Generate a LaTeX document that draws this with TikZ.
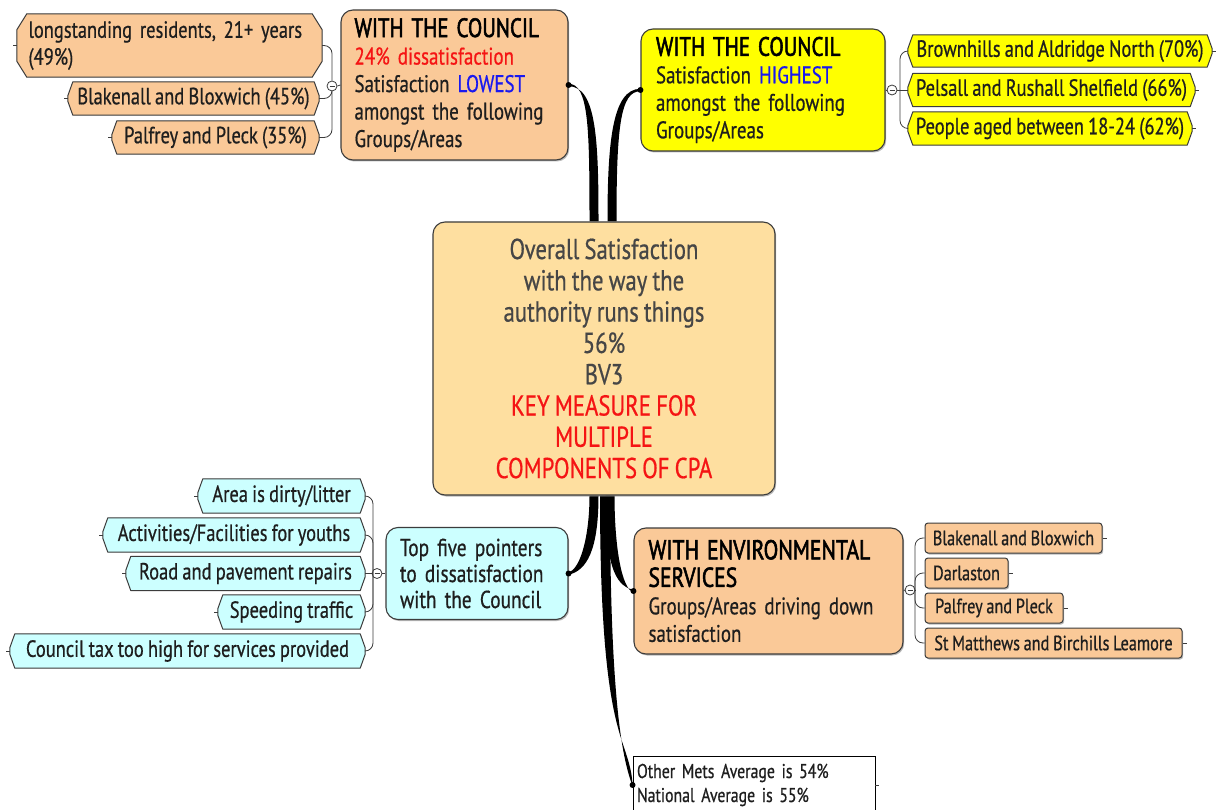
\documentclass[tikz,border=0pt]{standalone}
\usepackage{fontspec}
\setmainfont{PT Sans}[FakeStretch=0.79,FakeBold=0.6,WordSpace=0.85]
\newfontfamily\titlefont{PT Sans}[FakeStretch=0.79,FakeBold=2,WordSpace=0.85]
\usetikzlibrary{calc,backgrounds,shadows}
\definecolor{peach}{RGB}{250,201,152}
\definecolor{cbox}{RGB}{254,223,160}
\definecolor{ylw}{RGB}{255,255,0}
\definecolor{cyn}{RGB}{204,255,255}
\definecolor{kred}{RGB}{245,20,20}
\definecolor{kblue}{RGB}{25,25,240}
\definecolor{ctext}{RGB}{70,70,70}
\definecolor{btext}{RGB}{30,30,30}
\definecolor{edge}{RGB}{60,60,60}
% tapered connector: base, end, edge A controls (base, end), edge B controls (base, end), half width
\newcommand{\taper}[7]{%
  \fill ($#1+(-#7,0)$) .. controls +#3 and +#4 .. ($#2+(0,-1.2)$) -- ($#2+(0,1.2)$) .. controls +#6 and +#5 .. ($#1+(#7,0)$) -- cycle;}
% chamfered outline behind a named node: node, dx, dy, fill
\newcommand{\chamf}[4]{%
  \path[fill=black!45,opacity=0.6,shift={(1.2,1.5)}] ($(#1.north west)+(#2,0)$) -- ($(#1.north east)+(-#2,0)$) -- ($(#1.north east)+(0,#3)$) -- ($(#1.south east)+(0,-#3)$) -- ($(#1.south east)+(-#2,0)$) -- ($(#1.south west)+(#2,0)$) -- ($(#1.south west)+(0,-#3)$) -- ($(#1.north west)+(0,#3)$) -- cycle;
  \path[fill=#4,draw=edge,line width=1pt,line join=round] ($(#1.north west)+(#2,0)$) -- ($(#1.north east)+(-#2,0)$) -- ($(#1.north east)+(0,#3)$) -- ($(#1.south east)+(0,-#3)$) -- ($(#1.south east)+(-#2,0)$) -- ($(#1.south west)+(#2,0)$) -- ($(#1.south west)+(0,-#3)$) -- ($(#1.north west)+(0,#3)$) -- cycle;}
\begin{document}
\begin{tikzpicture}[x=1pt,y=-1pt,
  shd/.style={drop shadow={shadow xshift=1.2pt,shadow yshift=-1.5pt,fill=black!45,opacity=0.6}},
  bigbox/.style={rectangle,rounded corners=12pt,draw=edge,line width=1.1pt,text=btext,inner sep=0pt,align=left,
    font=\fontsize{24}{27.5}\selectfont},
  citem/.style={rectangle,inner sep=0pt,text=btext,font=\fontsize{23.4}{27}\selectfont},
  eitem/.style={rectangle,rounded corners=3pt,draw=edge,line width=1pt,fill=peach,text=btext,inner sep=0pt,
    font=\fontsize{20.6}{25}\selectfont},
  brk/.style={draw=edge,line width=0.8pt,rounded corners=8pt},
  stub/.style={draw=edge,line width=0.8pt},
  coll/.style={circle,draw=edge,line width=0.8pt,fill=white,minimum size=10pt,inner sep=0pt,
    path picture={\draw[line width=0.8pt] ([xshift=-2.5pt]path picture bounding box.center) -- ([xshift=2.5pt]path picture bounding box.center);}},
]
\clip (0,0) rectangle (1216,810);
\begin{scope}[on background layer]
\fill[white] (0,0) rectangle (1216,810);
\end{scope}

% central box
\node[bigbox,shd,fill=cbox,align=center,text=ctext,minimum width=342pt,minimum height=273pt,
  font=\fontsize{28.8}{31.3}\selectfont] (center) at (604,358.5)
  {Overall Satisfaction\\with the way the\\authority runs things\\56\%\\BV3\\
   \textcolor{kred}{KEY MEASURE FOR}\\\textcolor{kred}{MULTIPLE}\\\textcolor{kred}{COMPONENTS OF CPA}};

% top-left box
\node[bigbox,shd,fill=peach,minimum width=227pt,minimum height=150pt,text width=200pt] (low) at (454.5,85)
  {{\titlefont\fontsize{26.5}{27.5}\selectfont\color{black}WITH THE COUNCIL}\\\textcolor{kred}{24\% dissatisfaction}\\Satisfaction \textcolor{kblue}{LOWEST}\\amongst the following\\Groups/Areas};

% top-right box
\node[bigbox,shd,fill=ylw,minimum width=244pt,minimum height=122pt,text width=214pt] (high) at (763,90)
  {{\titlefont\fontsize{26.5}{27.5}\selectfont\color{black}WITH THE COUNCIL}\\Satisfaction \textcolor{kblue}{HIGHEST}\\amongst the following\\Groups/Areas};

% bottom-left box
\node[bigbox,shd,fill=cyn,minimum width=182pt,minimum height=92pt,text width=154pt,font=\fontsize{24.5}{26}\selectfont] (top5) at (477,573.5)
  {Top five pointers\\to dissatisfaction\\with the Council};

% bottom-right box
\node[bigbox,shd,fill=peach,minimum width=269pt,minimum height=126pt,text width=240pt] (env) at (768.5,591)
  {{\titlefont\fontsize{27.3}{29.5}\selectfont\color{black}WITH ENVIRONMENTAL}\\{\titlefont\fontsize{27.3}{29.5}\selectfont\color{black}SERVICES}\\Groups/Areas driving down\\satisfaction};

% bottom white box
\node[rectangle,draw=black,line width=0.9pt,fill=white,text=btext,align=left,inner sep=0pt,
  minimum width=242pt,minimum height=58pt,text width=234pt,font=\fontsize{20}{24}\selectfont] (avg) at (754,785)
  {Other Mets Average is 54\%\\National Average is 55\%};

% left items
\node[citem,minimum width=305pt,minimum height=63pt,text width=282pt,align=left] (l1) at (169.5,45.5)
  {longstanding residents, 21+ years\\(49\%)};
\node[citem,minimum width=251pt,minimum height=33pt] (l2) at (193.5,98.5) {Blakenall and Bloxwich (45\%)};
\node[citem,minimum width=207pt,minimum height=33pt] (l3) at (215.5,137.5) {Palfrey and Pleck (35\%)};
\node[coll] (cl) at (332,86) {};

% right items
\node[citem,minimum width=304pt,minimum height=32pt] (r1) at (1060,51) {Brownhills and Aldridge North (70\%)};
\node[citem,minimum width=287pt,minimum height=33pt] (r2) at (1051.5,90) {Pelsall and Rushall Shelfield (66\%)};
\node[citem,minimum width=284pt,minimum height=33pt] (r3) at (1050,128.5) {People aged between 18-24 (62\%)};
\node[coll] (cr) at (892,90) {};
\coordinate (jr) at (900,90);

% cyan items
\node[citem,minimum width=167pt,minimum height=34pt] (t1) at (281.5,496) {Area is dirty/litter};
\node[citem,minimum width=262pt,minimum height=34pt] (t2) at (234,535) {Activities/Facilities for youths};
\node[citem,minimum width=239pt,minimum height=34pt] (t3) at (245.5,573.5) {Road and pavement repairs};
\node[citem,minimum width=147pt,minimum height=34pt] (t4) at (291.5,612) {Speeding traffic};
\node[citem,minimum width=355pt,minimum height=34pt] (t5) at (187.5,651) {Council tax too high for services provided};
\node[coll] (ct) at (377,573.5) {};
\coordinate (jt) at (373,573.5);

% env items
\node[eitem,shd,minimum width=177pt,minimum height=30pt] (e1) at (1013.5,538) {Blakenall and Bloxwich};
\node[eitem,shd,minimum width=83pt,minimum height=30pt] (e2) at (966.5,573) {Darlaston};
\node[eitem,shd,minimum width=138pt,minimum height=30pt] (e3) at (994,608) {Palfrey and Pleck};
\node[eitem,shd,minimum width=257pt,minimum height=30pt] (e4) at (1053.5,643) {St Matthews and Birchills Leamore};
\node[coll] (ce) at (910,590) {};
\coordinate (je) at (915,590);

% chamfered item outlines (behind texts)
\begin{scope}[on background layer]
\chamf{l1}{10}{16}{peach}
\foreach \n in {l2,l3} {\chamf{\n}{5}{14}{peach}}
\foreach \n in {r1,r2,r3} {\chamf{\n}{5}{14}{ylw}}
\foreach \n in {t1,t2,t3,t4,t5} {\chamf{\n}{5}{14}{cyn}}
\end{scope}

% brackets
\draw[brk] (l1.east) -| (cl.north);
\draw[brk] (l2.east) -| (cl.south);
\draw[brk] (l3.east) -| (cl.south);
\draw[stub] (cl.east) -- (low.west);

\draw[stub] (high.east) -- (cr.west);
\draw[stub] (cr.east) -- (jr);
\draw[brk] (jr) |- (r1.west);
\draw[brk] (jr) -- (r2.west);
\draw[brk] (jr) |- (r3.west);

\draw[stub] (top5.west) -- (ct.east);
\draw[stub] (ct.west) -- (jt);
\foreach \n in {t1,t2,t4,t5} {\draw[brk] (jt) |- (\n.east);}
\draw[brk] (jt) -- (t3.east);

\draw[stub] (env.east) -- (ce.west);
\draw[stub] (ce.east) -- (je);
\foreach \n in {e1,e2,e3,e4} {\draw[brk] (je) |- (\n.west);}

% stubs at far ends
\foreach \n in {l1,l2,l3,t1,t2,t3,t4,t5} {\draw[stub] (\n.west) -- ++(-4,0);}
\foreach \n in {r1,r2,r3,e1,e2,e3,e4} {\draw[stub] (\n.east) -- ++(4,0);}
\draw[stub] (avg.east) -- ++(4,0);

% tapered connectors
\coordinate (b1) at ($(center.north)+(-10,0)$);
\coordinate (b2) at ($(center.north)+(8,0)$);
\coordinate (b3) at ($(center.south)+(-10,0)$);
\coordinate (b4) at ($(center.south)+(6,0)$);
\coordinate (b5) at ($(center.south)+(1,0)$);
\coordinate (d1) at (low.east);
\coordinate (d2) at (high.west);
\coordinate (d3) at (top5.east);
\coordinate (d4) at (env.west);
\coordinate (d5) at (avg.west);
\begin{scope}[on background layer]
\taper{(b1)}{(d1)}{(0,-95)}{(20,0)}{(0,-80)}{(28,0)}{4.5}
\taper{(b2)}{(d2)}{(0,-80)}{(-28,0)}{(0,-95)}{(-20,0)}{4.5}
\taper{(b3)}{(d3)}{(0,40)}{(12,-3)}{(0,55)}{(18,-4)}{4.5}
\taper{(b4)}{(d4)}{(0,65)}{(-20,-4)}{(0,50)}{(-12,-3)}{4.5}
\taper{(b5)}{(d5)}{(0,250)}{(-4,-50)}{(0,215)}{(-9,-25)}{5}
\end{scope}
\foreach \d in {d1,d2,d3,d4,d5} {\fill (\d) circle (3pt);}
\end{tikzpicture}
\end{document}
